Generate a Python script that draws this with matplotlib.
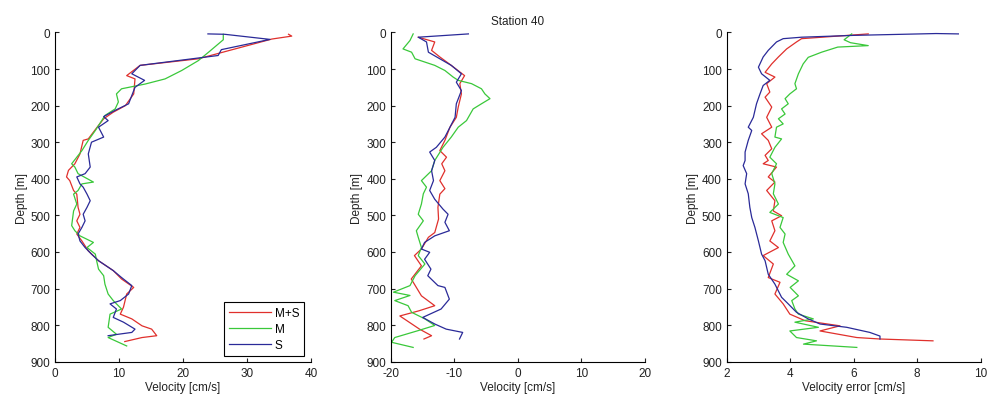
#coding:utf-8

#
# velocity and velocity error profiles at station 40 (M+S, M, S)
#

import numpy as np
from matplotlib import pyplot as plt

plt.rcParams['font.family'] = ['Liberation Sans', 'DejaVu Sans']
plt.rcParams['axes.unicode_minus'] = False   # plain '-' like the original

# ---- panel 1 : velocity [cm/s]
z1_ms = [5, 10, 18, 72, 90, 118, 127, 168, 200, 218, 236, 254, 291, 295, 332, 359, 377, 395, 405, 432,
         442, 478, 497, 515, 533, 551, 570, 597, 624, 651, 674, 697, 715, 751, 770, 783, 802, 811, 829, 834, 845]
v1_ms = [36.5, 37, 33.9, 22.4, 13.3, 11.2, 12.5, 12.3, 11, 9.1, 7.6, 6.8, 5.2, 4.4, 3.9, 3.1, 2.1, 1.8, 2.3, 2.9,
         3.4, 3.6, 3.9, 3.4, 3.9, 3.4, 4.2, 5.2, 6.8, 9.1, 10.4, 12.3, 11.2, 10.7, 10.2, 12, 13.6, 15.1, 15.9, 13.6, 10.9]

z1_m = [5, 20, 54, 77, 104, 127, 141, 154, 168, 190, 209, 227, 241, 268, 295, 323, 341, 359, 368, 386, 409, 414,
        432, 442, 469, 488, 528, 542, 556, 574, 588, 606, 624, 647, 665, 688, 715, 733, 756, 770, 806, 825, 834, 857]
v1_m = [26.3, 26.3, 24, 22.4, 19.8, 17.2, 14.1, 10.4, 9.6, 9.9, 9.4, 7.8, 7.3, 6.3, 5.2, 4.2, 3.4, 2.6, 3.1, 3.6, 6.0, 4.2,
        3.6, 2.9, 3.4, 2.9, 2.6, 3.1, 3.9, 6.0, 5.0, 6.3, 6.5, 6.8, 7.6, 7.8, 8.3, 9.1, 10.4, 8.6, 8.3, 9.6, 8.3, 11.2]

z1_s = [4, 5, 19, 47, 63, 90, 113, 131, 150, 195, 213, 230, 241, 259, 286, 300, 332, 368, 386, 395, 414, 423,
        442, 460, 478, 497, 515, 533, 551, 570, 588, 606, 624, 651, 670, 692, 715, 733, 742, 756, 779, 792, 811, 820, 825, 829]
v1_s = [23.9, 26.5, 33.6, 26, 25.5, 13.3, 12, 14, 12.5, 11.5, 9.4, 7.6, 8.3, 6.8, 7.6, 5.7, 5.2, 5.5, 4.7, 3.4, 3.9, 4.4,
        5.0, 5.5, 5.0, 4.4, 4.7, 4.2, 3.6, 3.9, 4.7, 5.7, 6.8, 9.1, 10.4, 12, 11.5, 10.2, 8.6, 9.6, 9.1, 10.7, 12.5, 12, 9.9, 8.3]

# ---- panel 2 : velocity [cm/s]
z2_ms = [13, 26, 49, 67, 90, 118, 140, 168, 204, 232, 259, 295, 323, 341, 359, 378, 405, 427,
         442, 478, 510, 547, 560, 592, 610, 638, 674, 720, 747, 761, 775, 811, 829, 838]
v2_ms = [-15.7, -13.1, -13.6, -12.3, -10.5, -8.4, -9.15, -8.9, -9.4, -9.7, -10.7, -11.5, -12.3, -11.25, -12.0, -11.5, -12.3, -11.5,
         -12.3, -12.6, -12.5, -13.1, -14.1, -15.2, -16.3, -15.2, -16.8, -15.2, -13.1, -15.6, -18.6, -15.5, -13.6, -14.8]

z2_m = [4, 22, 45, 54, 72, 81, 90, 104, 122, 131, 140, 154, 168, 181, 195, 209, 241, 259, 286, 314, 350, 378, 405, 423, 441,
        469, 497, 515, 542, 560, 588, 610, 633, 665, 692, 710, 719, 733, 747, 765, 783, 801, 815, 834, 847, 861]
v2_m = [-16.5, -17.0, -18.1, -16.75, -16.2, -14.65, -13.1, -11.5, -10.2, -9.4, -7.3, -5.74, -5.2, -4.4, -5.74, -7.05, -8.1, -9.4,
        -10.5, -11.8, -13.1, -13.6, -15.2, -14.4, -14.9,
        -15.2, -15.7, -14.9, -16.0, -15.7, -15.2, -15.7, -14.65, -16.2, -17.0, -19.6, -17.0, -19.4, -17.3, -16.75, -14.65, -13.1,
        -15.7, -19.4, -19.9, -16.5]

z2_s = [4, 13, 26, 54, 72, 90, 113, 136, 159, 195, 232, 259, 286, 314, 327, 350, 378, 405, 432,
        456, 483, 497, 519, 542, 556, 574, 592, 601, 620, 647, 665, 692, 697, 729, 756, 779, 797, 811, 820, 838]
v2_s = [-7.8, -15.7, -14.4, -14.1, -12.3, -10.5, -8.9, -9.7, -8.9, -9.7, -9.9, -10.7, -11.5, -12.85, -13.9, -13.1, -13.6, -13.3, -13.9,
        -13.1, -11.8, -11.0, -11.5, -10.8, -13.1, -14.7, -15.2, -13.9, -14.7, -13.7, -14.2, -12.6, -11.5, -10.8,
        -12.1, -15.0, -13.1, -11.3, -8.7, -9.2]

# ---- panel 3 : velocity error [cm/s]
z3_ms = [4, 17, 26, 45, 67, 86, 109, 122, 140, 163, 177, 204, 232, 259, 277, 295, 318, 336, 350, 359, 368, 395, 409, 432,
         460, 488, 501, 515, 542, 570, 588, 610, 633, 670, 683, 715, 742, 770, 788, 802, 816, 834, 838, 843]
v3_ms = [6.46, 4.36, 4.2, 3.89, 3.63, 3.42, 3.21, 3.52, 3.26, 3.36, 3.21, 3.42, 3.26, 3.42, 3.10, 3.31, 3.42, 3.21, 3.31, 3.15,
         3.57, 3.31, 3.52, 3.26,
         3.52, 3.47, 3.73, 3.42, 3.52, 3.36, 3.63, 3.15, 3.47, 3.31, 3.68, 3.52, 3.78, 3.99, 4.47, 5.57, 4.94, 6.1, 6.83, 8.5]

z3_m = [4, 20, 28, 36, 40, 54, 68, 86, 113, 140, 154, 168, 181, 195, 209, 223, 236, 250, 259, 286, 291, 314, 341, 359, 386,
        414, 441, 469, 492, 506, 533, 551, 574, 606, 638, 661, 679, 697, 720, 733, 756, 770, 783, 792, 806, 816, 834,
        843, 852, 861]
v3_m = [5.94, 5.7, 5.9, 6.46, 5.5, 4.99, 4.57, 4.41, 4.26, 4.15, 4.2, 3.99, 3.84, 3.94, 3.73, 3.84, 3.63, 3.78, 3.57, 3.52,
        3.73, 3.52, 3.36, 3.57, 3.42,
        3.52, 3.47, 3.63, 3.36, 3.78, 3.68, 3.84, 3.78, 3.94, 4.15, 3.89, 4.26, 4.0, 4.26, 4.05, 4.15, 4.26, 4.73, 4.15, 4.89,
        3.99, 4.2, 4.83, 4.42, 6.1]

z3_s = [4, 3, 8, 13, 17, 26, 49, 67, 95, 113, 131, 145, 168, 195, 232, 259, 268, 295, 327, 350, 364, 386, 414, 441,
        478, 506, 533, 570, 606, 624, 661, 688, 724, 742, 765, 783, 797, 806, 820, 830, 838]
v3_s = [9.3, 8.6, 6.0, 4.36, 3.78, 3.57, 3.31, 3.15, 3.0, 3.1, 3.36, 3.15, 3.05, 2.94, 2.84, 2.68, 2.79, 2.68, 2.58, 2.58,
        2.52, 2.63, 2.58, 2.68,
        2.73, 2.79, 2.89, 3.0, 3.1, 3.21, 3.31, 3.52, 3.73, 3.94, 4.2, 4.57, 4.94, 5.78, 6.51, 6.83, 6.83]

labels = ['M+S', 'M', 'S']
colors = ['#e0302c', '#3ac83a', '#2a2a98']

depth_ticks = np.arange(0, 901, 100)


def draw_panel(ax, profiles, xlim, xticks, xlabel):
	for (v, z), c, lab in zip(profiles, colors, labels):
		ax.plot(v, z, color=c, lw=0.9, label=lab)
	ax.set_xlim(xlim)
	ax.set_ylim(900, 0)
	ax.set_xticks(xticks)
	ax.set_yticks(depth_ticks)
	ax.spines['top'].set_visible(False)
	ax.spines['right'].set_visible(False)
	for s in ('left', 'bottom'):
		ax.spines[s].set_linewidth(0.8)
	ax.tick_params(direction='in', length=3, width=0.8, labelsize=8.5, colors='#222222')
	ax.set_xlabel(xlabel, fontsize=8.5, labelpad=2, color='#222222')
	ax.set_ylabel('Depth [m]', fontsize=8.5, labelpad=2, color='#222222')


fig = plt.figure(figsize=(9.88, 4.02), dpi=100)

ax1 = fig.add_axes([0.0557, 0.0978, 0.259, 0.819])
ax2 = fig.add_axes([0.3957, 0.0978, 0.257, 0.819])
ax3 = fig.add_axes([0.7355, 0.0978, 0.257, 0.819])

draw_panel(ax1, [(v1_ms, z1_ms), (v1_m, z1_m), (v1_s, z1_s)], (0, 40), [0, 10, 20, 30, 40], 'Velocity [cm/s]')
draw_panel(ax2, [(v2_ms, z2_ms), (v2_m, z2_m), (v2_s, z2_s)], (-20, 20), [-20, -10, 0, 10, 20], 'Velocity [cm/s]')
draw_panel(ax3, [(v3_ms, z3_ms), (v3_m, z3_m), (v3_s, z3_s)], (2, 10), [2, 4, 6, 8, 10], 'Velocity error [cm/s]')

ax2.set_title('Station 40', fontsize=8.5, pad=6, color='#222222')

leg = ax1.legend(loc='lower right', bbox_to_anchor=(0.973, 0.017), borderaxespad=0, fontsize=8.5,
                 handlelength=3.6, fancybox=False, framealpha=1, edgecolor='black', labelspacing=0.35,
                 borderpad=0.4, handletextpad=0.3)
leg.get_frame().set_linewidth(0.8)

fig.savefig('out.png', dpi=100)
